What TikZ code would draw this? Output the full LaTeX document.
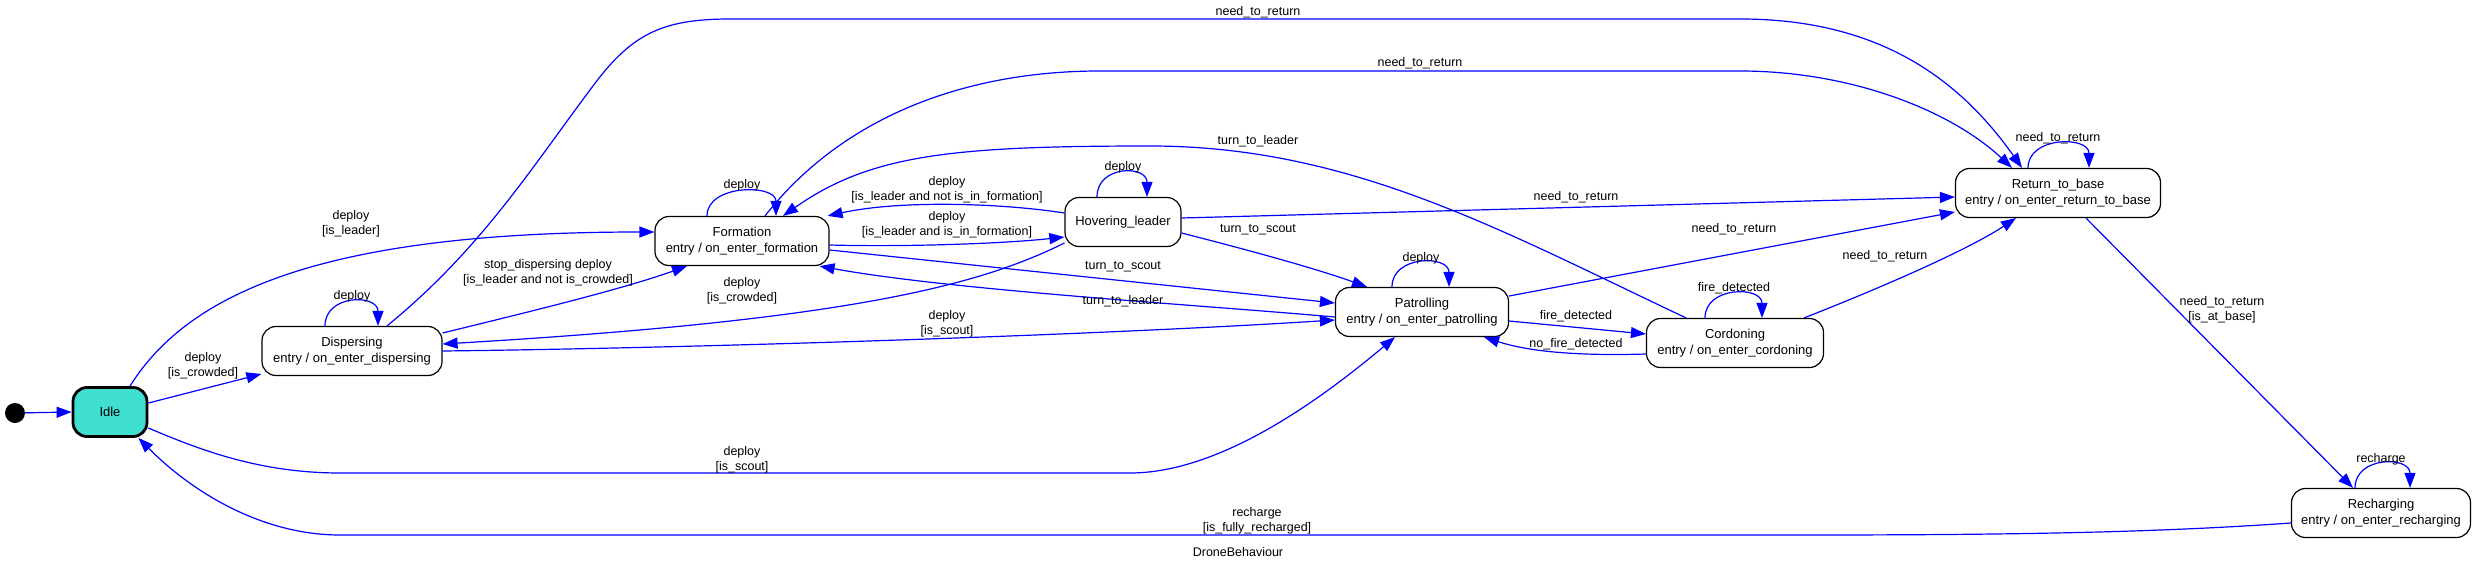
\documentclass[tikz,border=0pt]{standalone}
\usepackage{fontspec}
\setmainfont{Liberation Sans}
\usetikzlibrary{arrows.meta}
\definecolor{idlefill}{HTML}{40E0D0}

\begin{document}
\begin{tikzpicture}[x=1pt,y=-1pt,
  font=\fontsize{12.5}{15}\selectfont,
  state/.style={draw,line width=1.2pt,rounded corners=14pt,align=center,
    minimum height=49pt,inner sep=2pt,font=\fontsize{13}{15.5}\selectfont},
  trans/.style={draw=blue,line width=1.2pt,-{Triangle[length=15pt,width=11pt]}},
  lbl/.style={align=center,inner sep=0pt}]

\useasboundingbox (0,0) rectangle (2477,570);

% States
\node[circle,fill=black,minimum size=20pt,inner sep=0pt] (init) at (15,413) {};
\node[state,line width=2.8pt,fill=idlefill,minimum width=74pt] (idle) at (110,412) {Idle};
\node[state,minimum width=180pt] (dispersing) at (352,351) {Dispersing\\entry / on\_enter\_dispersing};
\node[state,minimum width=174pt] (formation) at (742,241) {Formation\\entry / on\_enter\_formation};
\node[state,minimum width=116pt] (hovering) at (1123,222) {Hovering\_leader};
\node[state,minimum width=173pt] (patrolling) at (1422,312) {Patrolling\\entry / on\_enter\_patrolling};
\node[state,minimum width=177pt] (cordoning) at (1735,343) {Cordoning\\entry / on\_enter\_cordoning};
\node[state,minimum width=205pt] (rtb) at (2058,193) {Return\_to\_base\\entry / on\_enter\_return\_to\_base};
\node[state,minimum width=179pt] (recharging) at (2381,513) {Recharging\\entry / on\_enter\_recharging};

% Start and Idle
\draw[trans] (init) -- (idle.west);

\draw[trans] ([yshift=9pt]idle.east) -- ([yshift=-23pt]dispersing.west);
\node[lbl] (lIdleDisp) at (203,366) {deploy\\{}[is\_crowded]};

\draw[trans] ([xshift=20pt]idle.north)
.. controls (190,290) and (330,232) ..
([yshift=9pt]formation.west);
\node[lbl] (lIdleForm) at (351,224) {deploy\\{}[is\_leader]};

\draw[trans] ([yshift=-16pt]idle.east)
.. controls (200,450) and (260,473) .. (340,473) -- (1130,473)
.. controls (1220,473) and (1320,400) ..
([xshift=-27pt]patrolling.south);
\node[lbl] (lIdlePat) at (742,460) {deploy\\{}[is\_scout]};

% Dispersing
\draw[trans] ([xshift=-27pt]dispersing.north)
.. controls +(0,-32) and +(0,-32) .. ([xshift=26pt]dispersing.north);
\node[lbl] (lDispSelf) at (352,296) {deploy};

\draw[trans] ([xshift=35pt]dispersing.north)
.. controls (480,250) and (530,170) .. (590,90)
.. controls (630,35) and (660,19) .. (730,19) -- (1740,19)
.. controls (1880,19) and (1960,80) ..
([xshift=-36pt]rtb.north);
\node[lbl] (lDispRtb) at (1258,12) {need\_to\_return};

\draw[trans] ([yshift=18pt]dispersing.east)
.. controls (520,314) and (620,290) ..
([xshift=-55pt]formation.south);
\node[lbl] (lDispForm) at (548,273) {stop\_dispersing deploy\\{}[is\_leader and not is\_crowded]};

\draw[trans] (dispersing.east)
.. controls (700,348) and (1100,335) ..
([yshift=-8pt]patrolling.west);
\node[lbl] (lDispPat) at (947,324) {deploy\\{}[is\_scout]};

% Formation
\draw[trans] ([xshift=-35pt]formation.north)
.. controls +(0,-32) and +(0,-32) .. ([xshift=34pt]formation.north);
\node[lbl] (lFormSelf) at (742,185) {deploy};

\draw[trans] ([xshift=23pt]formation.north)
.. controls (840,120) and (960,71) .. (1100,71) -- (1740,71)
.. controls (1850,71) and (1950,110) ..
([xshift=-46pt]rtb.north);
\node[lbl] (lFormRtb) at (1420,63) {need\_to\_return};

\draw[trans] ([yshift=-4pt]formation.east)
.. controls (900,247) and (1000,244) ..
([yshift=-15pt]hovering.west);
\node[lbl] (lFormHov) at (947,225) {deploy\\{}[is\_leader and is\_in\_formation]};

\draw[trans] ([yshift=-9pt]formation.east) -- ([yshift=9pt]patrolling.west);
\node[lbl] (lFormPat) at (1123,267) {turn\_to\_scout};

% Hovering_leader
\draw[trans] ([xshift=-26pt]hovering.north)
.. controls +(0,-32) and +(0,-32) .. ([xshift=24pt]hovering.north);
\node[lbl] (lHovSelf) at (1123,167) {deploy};

\draw[trans] ([yshift=9pt]hovering.west)
.. controls (1000,203) and (900,200) ..
([xshift=-2pt]formation.north east);
\node[lbl] (lHovForm) at (947,190) {deploy\\{}[is\_leader and not is\_in\_formation]};

\draw[trans] ([yshift=-21pt]hovering.west)
.. controls (980,285) and (850,320) ..
([yshift=7pt]dispersing.east);
\node[lbl] (lHovDisp) at (742,291) {deploy\\{}[is\_crowded]};

\draw[trans] ([yshift=4pt]hovering.east) -- ([yshift=-4pt]rtb.west);
\node[lbl] (lHovRtb) at (1576,197) {need\_to\_return};

\draw[trans] ([yshift=-11pt]hovering.east)
.. controls (1260,253) and (1320,270) ..
([xshift=-55pt]patrolling.north);
\node[lbl] (lHovPat) at (1258,230) {turn\_to\_scout};

% Patrolling
\draw[trans] ([xshift=-30pt]patrolling.north)
.. controls +(0,-32) and +(0,-32) .. ([xshift=27pt]patrolling.north);
\node[lbl] (lPatSelf) at (1421,258) {deploy};

\draw[trans] ([yshift=-5pt]patrolling.west)
.. controls (1200,305) and (950,290) ..
([xshift=-10pt]formation.south east);
\node[lbl] (lPatForm) at (1123,301) {turn\_to\_leader};

\draw[trans] ([yshift=-9pt]patrolling.east) -- ([yshift=9pt]cordoning.west);
\node[lbl] (lPatCord) at (1576,316) {fire\_detected};

\draw[trans] ([yshift=16pt]patrolling.east) -- ([yshift=-19pt]rtb.west);
\node[lbl] (lPatRtb) at (1734,229) {need\_to\_return};

% Cordoning
\draw[trans] ([xshift=-30pt]cordoning.north)
.. controls +(0,-32) and +(0,-32) .. ([xshift=27pt]cordoning.north);
\node[lbl] (lCordSelf) at (1734,288) {fire\_detected};

\draw[trans] ([yshift=-11pt]cordoning.west)
.. controls (1580,356) and (1530,352) ..
([xshift=-25pt]patrolling.south east);
\node[lbl] (lCordPat) at (1576,344) {no\_fire\_detected};

\draw[trans] ([xshift=-49pt]cordoning.north)
.. controls (1500,230) and (1350,146) .. (1150,146)
.. controls (950,146) and (870,155) ..
([xshift=41pt]formation.north);
\node[lbl] (lCordForm) at (1258,141) {turn\_to\_leader};

\draw[trans] ([xshift=-20pt]cordoning.north east)
.. controls (1850,300) and (1960,255) ..
([xshift=-42pt]rtb.south);
\node[lbl] (lCordRtb) at (1885,256) {need\_to\_return};

% Return_to_base
\draw[trans] ([xshift=-30pt]rtb.north)
.. controls +(0,-32) and +(0,-32) .. ([xshift=31pt]rtb.north);
\node[lbl] (lRtbSelf) at (2058,138) {need\_to\_return};

\draw[trans] ([xshift=28pt]rtb.south) -- ([xshift=-28pt]recharging.north);
\node[lbl] (lRtbRech) at (2222,310) {need\_to\_return\\{}[is\_at\_base]};

% Recharging
\draw[trans] ([xshift=-26pt]recharging.north)
.. controls +(0,-32) and +(0,-32) .. ([xshift=29pt]recharging.north);
\node[lbl] (lRechSelf) at (2381,459) {recharge};

\draw[trans] ([yshift=-10pt]recharging.west)
.. controls (2150,533) and (2000,535) .. (1800,535) -- (340,535)
.. controls (260,535) and (190,490) ..
([xshift=-10pt]idle.south east);
\node[lbl] (lRechIdle) at (1257,521) {recharge\\{}[is\_fully\_recharged]};

\node (caption) at (1238,552) {DroneBehaviour};

\end{tikzpicture}
\end{document}
